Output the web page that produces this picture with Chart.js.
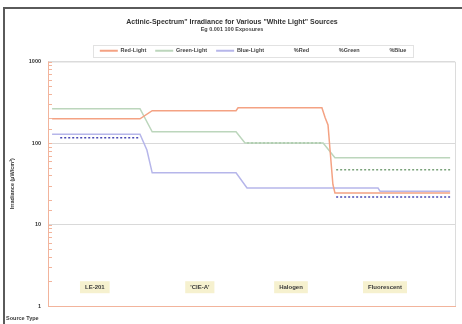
<!DOCTYPE html>
<html>
<head>
<meta charset="utf-8">
<script src="https://cdn.jsdelivr.net/npm/chart.js@4/dist/chart.umd.min.js"></script>
<style>
  html, body { margin: 0; padding: 0; background: #fff; }
  #wrap { position: relative; width: 462px; height: 324px; }
  #frame { position: absolute; left: 3px; top: 7px; width: 470px; height: 330px;
           border-left: 2px solid #5a5a5a; border-top: 2px solid #5a5a5a; box-sizing: border-box; }
  canvas { position: absolute; left: 0; top: 0; }
</style>
</head>
<body>
<div id="wrap">
  <div id="frame"></div>
  <canvas id="c" width="462" height="324"></canvas>
</div>
<script>
// Sample position along the run (0-100) and irradiance for each light channel
const redX   = [1, 22.6, 25.6, 46.2, 46.7, 67.3, 68.1, 68.8, 69.3, 70.0, 70.5, 98.8];
const redY   = [198, 198, 249, 249, 271, 271, 204, 167, 82, 31, 24.4, 24.4];
const greenX = [1, 22.6, 25.6, 46.2, 48.4, 67.6, 70.5, 98.8];
const greenY = [263, 263, 137, 137, 100, 100, 66, 66];
const blueX  = [1, 22.6, 24.3, 25.6, 46.2, 48.9, 81.1, 81.6, 98.8];
const blueY  = [128, 128, 82, 43, 43, 28, 28, 25.5, 25.5];

// Percentage channels (gaps where no reading)
const pctRedX   = [];
const pctRedY   = [];
const pctGreenX = [48.9, 67.3, 67.4, 70.8, 98.8];
const pctGreenY = [100, 100, null, 47, 47];
const pctBlueX  = [3, 22.6, 22.7, 70.8, 98.8];
const pctBlueY  = [116, 116, null, 21.8, 21.8];

// Source types and where each sits along the run
const sourceTypes  = ['LE-201', "'CIE-A'", 'Halogen', 'Fluorescent'];
const sourceAt     = [11.5, 37.3, 59.7, 82.8];
const sourceLevel  = 1.7;

const yTickLabels = [1, 10, 100, 1000];

const pts = (xs, ys) => xs.map((x, i) => ({ x: x, y: ys[i] }));

const SALMON = '#f2b49c';
const FONT = '"Liberation Sans", Arial, sans-serif';
const LEGEND_SHIFT_X = 21;
const LEGEND_TRIM = 2;

const framePlugin = {
  id: 'frameDecor',
  afterInit(chart) {
    // a slightly tighter legend band
    const lg = chart.legend;
    const fit = lg.fit;
    lg.fit = function () {
      fit.call(this);
      this.height = Math.max(0, this.height - LEGEND_TRIM);
    };
  },
  afterLayout(chart) {
    // nudge the legend row right of centre
    const lg = chart.legend;
    lg.left += LEGEND_SHIFT_X;
    lg.right += LEGEND_SHIFT_X;
    (lg.legendHitBoxes || []).forEach(b => { b.left += LEGEND_SHIFT_X; });
  },
  afterDraw(chart) {
    const ctx = chart.ctx;
    const a = chart.chartArea;
    const y = chart.scales.y;
    const x = chart.scales.x;
    ctx.save();
    // plot box top / right
    ctx.strokeStyle = '#dcdcdc';
    ctx.lineWidth = 1;
    ctx.beginPath();
    ctx.moveTo(a.left, a.top + 0.5);
    ctx.lineTo(a.right + 0.5, a.top + 0.5);
    ctx.lineTo(a.right + 0.5, a.bottom);
    ctx.stroke();
    // inner tick marks on the value axis
    ctx.strokeStyle = SALMON;
    y.ticks.forEach(t => {
      const py = Math.round(y.getPixelForValue(t.value)) + 0.5;
      ctx.beginPath();
      ctx.moveTo(a.left, py);
      ctx.lineTo(a.left + 4, py);
      ctx.stroke();
    });
    // legend outline
    const boxes = chart.legend.legendHitBoxes;
    if (boxes && boxes.length) {
      const l = Math.min(...boxes.map(b => b.left)) - 7;
      const r = Math.max(...boxes.map(b => b.left + b.width)) + 7;
      const t = Math.min(...boxes.map(b => b.top)) - 3;
      const bt = Math.max(...boxes.map(b => b.top + b.height)) + 3;
      ctx.strokeStyle = '#e2e2e2';
      ctx.strokeRect(Math.round(l) + 0.5, Math.round(t) + 0.5, Math.round(r - l), Math.round(bt - t));
    }
    // source type tags
    ctx.font = 'bold 6px ' + FONT;
    ctx.textAlign = 'center';
    ctx.textBaseline = 'middle';
    sourceTypes.forEach((s, i) => {
      const cx = x.getPixelForValue(sourceAt[i]);
      const cy = y.getPixelForValue(sourceLevel);
      const w = ctx.measureText(s).width + 10;
      const h = 12;
      ctx.fillStyle = '#f6f1cf';
      ctx.fillRect(cx - w / 2, cy - h / 2, w, h);
      ctx.fillStyle = '#3a3a3a';
      ctx.fillText(s, cx, cy + 0.5);
    });
    // category axis caption
    ctx.textAlign = 'left';
    ctx.fillStyle = '#3a3a3a';
    ctx.font = 'bold 5.5px ' + FONT;
    ctx.fillText('Source Type', 6, 318);
    ctx.restore();
  }
};

const lineDs = (label, data, color, width, dash) => ({
  label: label,
  data: data,
  borderColor: color,
  backgroundColor: color,
  borderWidth: width,
  borderDash: dash || [],
  pointRadius: 0,
  tension: 0,
  spanGaps: false,
  fill: false
});

new Chart(document.getElementById('c'), {
  type: 'line',
  data: {
    datasets: [
      lineDs('Red-Light',   pts(redX, redY),     '#f4a283', 1.5),
      lineDs('Green-Light', pts(greenX, greenY), '#bcd6bc', 1.5),
      lineDs('Blue-Light',  pts(blueX, blueY),   '#b6b6ea', 1.5),
      lineDs('%Red',   pts(pctRedX, pctRedY),     '#c85a3c', 1.5, [2, 2]),
      lineDs('%Green', pts(pctGreenX, pctGreenY), '#7aa27a', 1.5, [2, 2]),
      lineDs('%Blue',  pts(pctBlueX, pctBlueY),   '#4a4ab4', 1.5, [2, 2])
    ]
  },
  options: {
    responsive: false,
    animation: false,
    devicePixelRatio: 1,
    layout: { padding: { top: 18, right: 7, left: 9, bottom: 0 } },
    plugins: {
      title: {
        display: true,
        text: 'Actinic-Spectrum" Irradiance for Various "White Light" Sources',
        font: { family: FONT, size: 7, weight: 'bold' },
        color: '#333',
        padding: { top: 0, bottom: 0 }
      },
      subtitle: {
        display: true,
        text: 'Eg 0.001 100 Exposures',
        font: { family: FONT, size: 5.5, weight: 'bold' },
        color: '#444',
        padding: { top: 0, bottom: 6 }
      },
      legend: {
        display: true,
        position: 'top',
        labels: {
          font: { family: FONT, size: 5.5, weight: 'bold' },
          color: '#444',
          boxWidth: 18,
          boxHeight: 2,
          padding: 9,
          generateLabels(chart) {
            return chart.data.datasets.map((ds, i) => {
              const pct = ds.label.startsWith('%');
              return {
                text: ds.label,
                fillStyle: pct ? 'rgba(0,0,0,0)' : ds.borderColor,
                strokeStyle: 'rgba(0,0,0,0)',
                lineWidth: 0,
                hidden: false,
                datasetIndex: i,
                fontColor: '#444'
              };
            });
          }
        }
      },
      tooltip: { enabled: false }
    },
    scales: {
      x: {
        type: 'linear',
        min: 0,
        max: 100,
        grid: { display: false, drawTicks: false },
        border: { color: SALMON, width: 1 },
        ticks: { display: false },
        afterFit(s) { s.height = 18; }
      },
      y: {
        type: 'logarithmic',
        min: 1,
        max: 1000,
        border: { color: SALMON, width: 1 },
        grid: {
          color: c => (c.tick && yTickLabels.includes(c.tick.value)) ? '#d9d9d9' : 'rgba(0,0,0,0)',
          drawTicks: false
        },
        ticks: {
          autoSkip: false,
          padding: 7,
          color: '#333',
          font: { family: FONT, size: 5.5, weight: 'bold' },
          callback: v => yTickLabels.includes(v) ? String(v) : ''
        },
        title: {
          display: true,
          text: 'Irradiance (µW/cm²)',
          color: '#333',
          font: { family: FONT, size: 5.5, weight: 'bold' },
          padding: { top: 0, bottom: 0 }
        },
        afterFit(s) { s.width = 39; }
      }
    }
  },
  plugins: [framePlugin]
});
</script>
</body>
</html>
